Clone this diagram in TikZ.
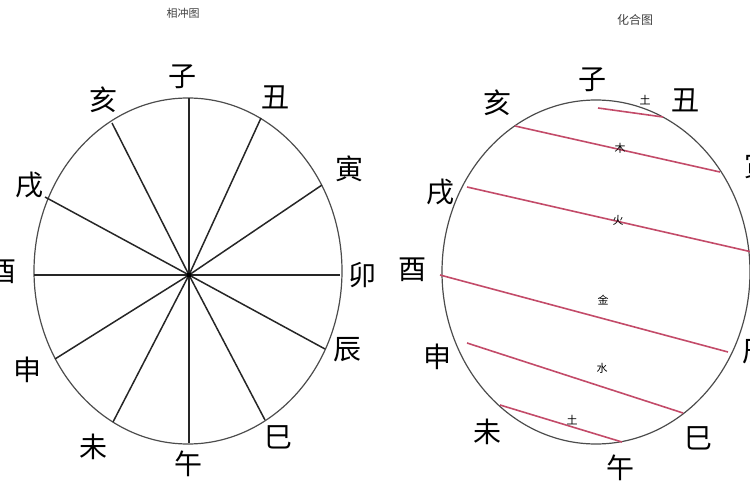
\documentclass[tikz,border=0pt]{standalone}
\usepackage{fontspec}
\setmainfont{Noto Sans CJK SC}
\usetikzlibrary{positioning}

\begin{document}
\begin{tikzpicture}[x=1pt,y=-1pt,
    branch/.style={font=\fontsize{28}{28}\selectfont,inner sep=0pt},
    elem/.style={font=\fontsize{11}{11}\selectfont,inner sep=0pt},
    title/.style={font=\fontsize{11}{11}\selectfont,inner sep=0pt,text=black!75},
    rim/.style={draw=black!70,line width=1.2pt},
    spoke/.style={draw=black!85,line width=1.5pt},
    pairline/.style={draw={rgb,255:red,195;green,75;blue,105},line width=1.6pt}]
    \clip (0,0) rectangle (750,500);

    % left: clash chart
    \node[title] (clash) at (183,13) {相冲图};
    \draw[rim] (188,271) ellipse [x radius=154, y radius=173];
    \coordinate (hub) at (189,275);
    \foreach \n/\x/\y in {zi/189/98, chou/261/118, yin/322/185, mao/340/275,
        chen/325/349, si/265/420, wu/189/443, wei/113/422,
        shen/55/359, you/34/275, xu/45/197, hai/112/123}
        {\coordinate (\n) at (\x,\y); \draw[spoke] (hub) -- (\n);}
    \fill (hub) circle (2.5);
    \foreach \n/\x/\y/\t in {zi/182/77/子, chou/275/97/丑, yin/349/169/寅, mao/362/275/卯,
        chen/347/350/辰, si/278/437/巳, wu/188/464/午, wei/93/447/未,
        shen/27/370/申, you/3/272/酉, xu/30/185/戌, hai/103/100/亥}
        {\node[branch] (l\n) at (\x,\y) {\t};}

    % right: combine chart
    \node[title,font=\fontsize{12}{12}\selectfont] (combine) at (635,20) {化合图};
    \draw[rim] (596,272) ellipse [x radius=154, y radius=172];
    \foreach \n/\x/\y/\t in {zi/592/80/子, chou/685/100/丑, yin/758/166/寅,
        chen/756/352/辰, si/698/438/巳, wu/620/468/午, wei/487/432/未,
        shen/437/357/申, you/412/270/酉, xu/440/192/戌, hai/497/103/亥}
        {\node[branch] (r\n) at (\x,\y) {\t};}
    \foreach \n/\ax/\ay/\bx/\by in {tua/598/108/663/117, mu/515/126/720/172,
        huo/467/187/752/252, jin/440/275/728/352, shui/467/343/683/413,
        tub/500/405/622/442}
        {\coordinate (\n1) at (\ax,\ay); \coordinate (\n2) at (\bx,\by);
         \draw[pairline] (\n1) -- (\n2);}
    \node[elem] (etua) at (645,100) {土};
    \node[elem] (emu) at (620,148) {木};
    \node[elem] (ehuo) at (618,220) {火};
    \node[elem] (ejin) at (603,300) {金};
    \node[elem] (eshui) at (602,368) {水};
    \node[elem] (etub) at (572,420) {土};
\end{tikzpicture}
\end{document}
